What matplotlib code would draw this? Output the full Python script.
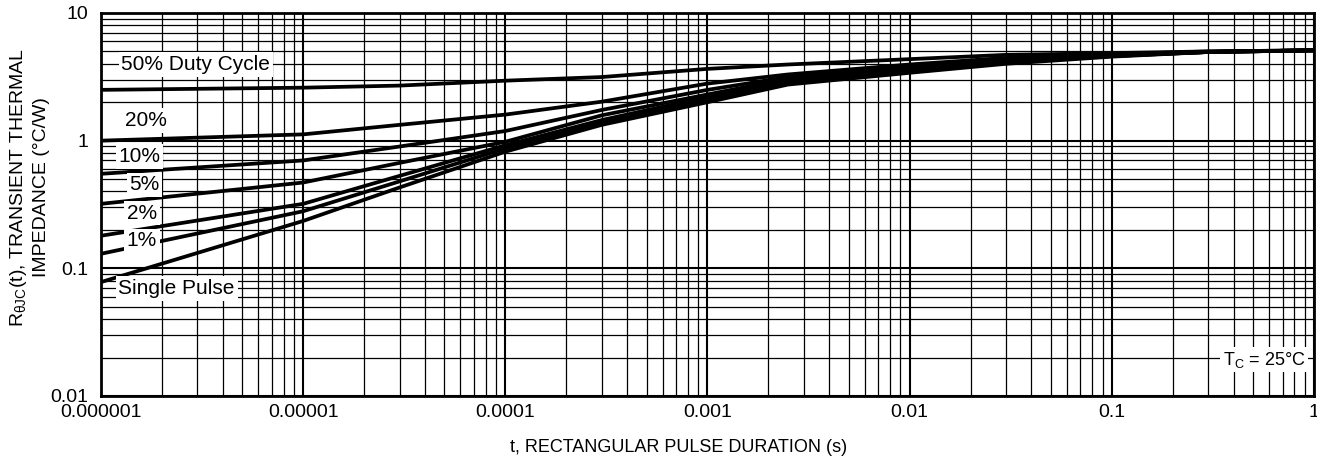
import numpy as np
import matplotlib.pyplot as plt
from matplotlib.ticker import FixedLocator, FixedFormatter, LogLocator, NullFormatter

plt.rcParams['font.family'] = ['Liberation Sans', 'DejaVu Sans']
plt.rcParams['mathtext.fontset'] = 'custom'
plt.rcParams['mathtext.rm'] = 'Liberation Sans'

# pulse duration (s)
t = [1e-6, 1e-5, 3e-5, 1e-4, 3e-4, 1e-3, 2.5e-3, 1e-2, 3e-2, 0.1, 0.3, 1]

# transient thermal impedance (°C/W)
z50 = [2.5, 2.6, 2.7, 2.95, 3.15, 3.65, 3.95, 4.35, 4.7, 4.85, 5.0, 5.1]
z20 = [1.0, 1.12, 1.33, 1.6, 2.02, 2.8, 3.3, 3.95, 4.45, 4.75, 5.0, 5.1]
z10 = [0.55, 0.70, 0.9, 1.19, 1.74, 2.5, 3.15, 3.8, 4.35, 4.7, 4.95, 5.1]
z5 = [0.32, 0.47, 0.67, 0.98, 1.58, 2.3, 3.05, 3.7, 4.25, 4.65, 4.95, 5.1]
z2 = [0.18, 0.32, 0.53, 0.92, 1.45, 2.2, 2.95, 3.6, 4.15, 4.6, 4.95, 5.1]
z1 = [0.13, 0.28, 0.48, 0.87, 1.4, 2.1, 2.85, 3.5, 4.1, 4.6, 4.95, 5.1]
zsingle = [0.078, 0.235, 0.43, 0.82, 1.33, 2.0, 2.75, 3.4, 4.0, 4.55, 4.95, 5.1]

curves = [z50, z20, z10, z5, z2, z1, zsingle]
curve_labels = ['50% Duty Cycle', '20%', '10%', '5%', '2%', '1%', 'Single Pulse']
label_x = [1.26e-6, 1.31e-6, 1.22e-6, 1.38e-6, 1.34e-6, 1.34e-6, 1.22e-6]
label_y = [3.94, 1.44, 0.75, 0.45, 0.27, 0.164, 0.0697]

xticks = [1e-6, 1e-5, 1e-4, 1e-3, 1e-2, 1e-1, 1]
xticklabels = ['0.000001', '0.00001', '0.0001', '0.001', '0.01', '0.1', '1']
yticks = [0.01, 0.1, 1, 10]
yticklabels = ['0.01', '0.1', '1', '10']

fig = plt.figure(figsize=(13.17, 4.69), dpi=100)
ax = fig.add_axes([0.0767, 0.1557, 0.921, 0.8166])
ax.set_xscale('log')
ax.set_yscale('log')
ax.set_xlim(1e-6, 1)
ax.set_ylim(0.01, 10)

ax.xaxis.set_major_locator(FixedLocator(xticks))
ax.xaxis.set_major_formatter(FixedFormatter(xticklabels))
ax.yaxis.set_major_locator(FixedLocator(yticks))
ax.yaxis.set_major_formatter(FixedFormatter(yticklabels))
ax.xaxis.set_minor_locator(LogLocator(base=10, subs=np.arange(2, 10), numticks=20))
ax.yaxis.set_minor_locator(LogLocator(base=10, subs=np.arange(2, 10), numticks=20))
ax.xaxis.set_minor_formatter(NullFormatter())
ax.yaxis.set_minor_formatter(NullFormatter())

ax.grid(which='major', color='black', linewidth=1.5)
ax.grid(which='minor', color='black', linewidth=0.9)
ax.tick_params(which='both', length=0, labelsize=14)
ax.tick_params(axis='x', pad=6)
ax.tick_params(axis='y', pad=9)
for s in ax.spines.values():
    s.set_linewidth(2)

for z in curves:
    ax.plot(t, z, color='black', linewidth=2.7, zorder=3)

for lab, lx, ly in zip(curve_labels, label_x, label_y):
    ax.text(lx, ly, lab, fontsize=15, ha='left', va='center', zorder=5,
            bbox=dict(facecolor='white', edgecolor='none', pad=2))

ax.text(0.993, 0.095, 'T$_\\mathregular{C}$ = 25°C', transform=ax.transAxes,
        fontsize=13, ha='right', va='center', zorder=5,
        bbox=dict(facecolor='white', edgecolor='none', pad=2))

ax.set_xlabel('t, RECTANGULAR PULSE DURATION (s)', fontsize=13)
ax.xaxis.set_label_coords(0.476, -0.112)
ax.set_ylabel('R$_{\\mathregular{θJC}}$(t), TRANSIENT THERMAL\nIMPEDANCE (°C/W)',
              fontsize=14, linespacing=1.3)
ax.yaxis.set_label_coords(-0.042, 0.545)

fig.savefig('out.png', dpi=100)
